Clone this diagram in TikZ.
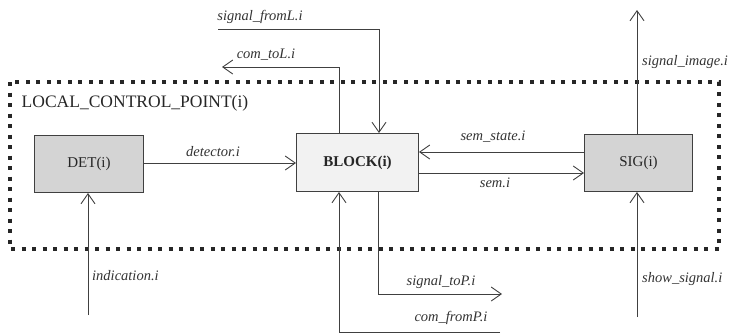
\documentclass[tikz,border=0pt]{standalone}
\usepackage{fontspec}
\setmainfont{Liberation Serif}
\usetikzlibrary{arrows.meta}
\begin{document}
\begin{tikzpicture}[x=1pt,y=-1pt,
  ln/.style={draw=black!75, line width=0.9pt},
  arr/.style={ln, -{Straight Barb[length=10pt,width=14pt,line width=0.9pt]}},
  box/.style={draw=black!75, line width=1pt, inner sep=0pt, anchor=north west},
  lab/.style={font=\fontsize{14.5}{17}\selectfont\itshape, text=black!80, inner sep=0pt},
  boxlab/.style={font=\fontsize{15}{17}\selectfont, text=black!85}
]
\useasboundingbox (0,0) rectangle (731,333);
% dotted frame
\draw[black!85, line width=3.8pt, dash pattern=on 4pt off 6.5pt] (10,82) rectangle (719,249);
\node[font=\fontsize{17.5}{20}\selectfont, text=black!85, inner sep=0pt] (lcp) at (135,103) {LOCAL\_CONTROL\_POINT(i)};
% boxes
\node[box, fill=black!17, minimum width=109pt, minimum height=57pt] (det) at (34,135) {};
\node[boxlab] at (det.center) {DET(i)};
\node[box, fill=black!5, minimum width=122pt, minimum height=58pt] (blk) at (296,133) {};
\node[boxlab, font=\fontsize{15}{17}\selectfont\bfseries] at (blk.center) {BLOCK(i)};
\node[box, fill=black!17, minimum width=108pt, minimum height=57pt] (sig) at (584,134) {};
\node[boxlab] at (sig.center) {SIG(i)};
% coordinates
\coordinate (fl0) at (218,29);
\coordinate (fl1) at (379,29);
\coordinate (tl1) at (339,67);
\coordinate (tl0) at (222,67);
\coordinate (si1) at (637,10);
\coordinate (in0) at (88,315);
\coordinate (cp0) at (500,332);
\coordinate (cp1) at (339,332);
\coordinate (tp1) at (378,294);
\coordinate (tp0) at (502,294);
\coordinate (ss0) at (637,317);
% connectors
\draw[arr] (det.east |- 0,163) -- (blk.west |- 0,163);
\node[lab] at (213,152) {detector.i};
\draw[arr] (sig.west |- 0,152) -- (blk.east |- 0,152);
\node[lab] at (493,137) {sem\_state.i};
\draw[arr] (blk.east |- 0,173) -- (sig.west |- 0,173);
\node[lab] at (495,183) {sem.i};
\draw[arr] (fl0) -- (fl1) -- (fl1 |- blk.north);
\node[lab] at (260,17) {signal\_fromL.i};
\draw[arr] (tl1 |- blk.north) -- (tl1) -- (tl0);
\node[lab] at (266,55) {com\_toL.i};
\draw[arr] (si1 |- sig.north) -- (si1);
\node[lab, anchor=west] at (642,62) {signal\_image.i};
\draw[arr] (in0) -- (in0 |- det.south);
\node[lab, anchor=west] at (92,276) {indication.i};
\draw[arr] (cp0) -- (cp1) -- (cp1 |- blk.south);
\node[lab] at (451,318) {com\_fromP.i};
\draw[arr] (tp1 |- blk.south) -- (tp1) -- (tp0);
\node[lab] at (441,282) {signal\_toP.i};
\draw[arr] (ss0) -- (ss0 |- sig.south);
\node[lab, anchor=west] at (642,279) {show\_signal.i};
\end{tikzpicture}
\end{document}
